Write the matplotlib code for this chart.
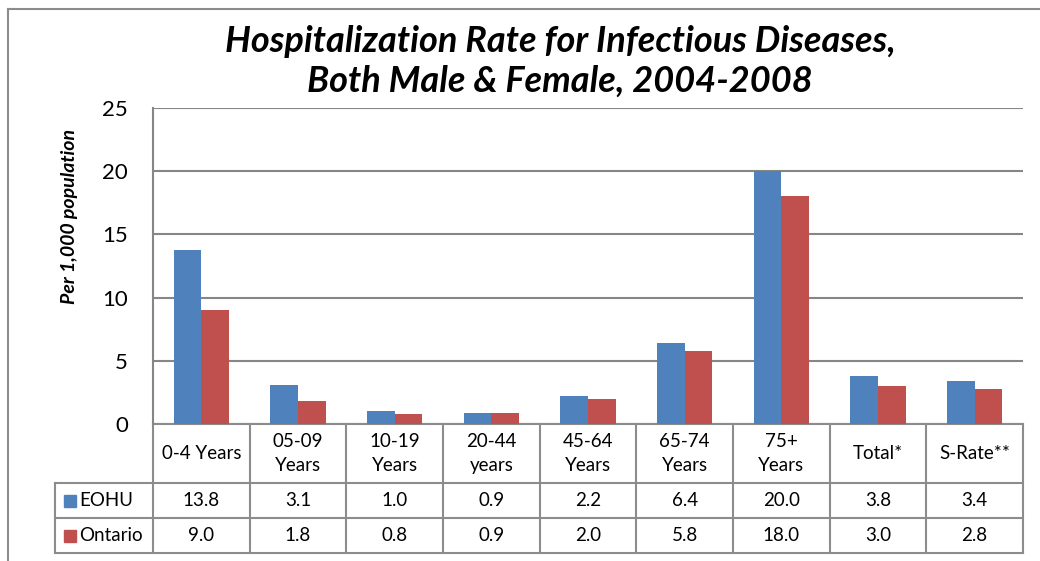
#!/usr/bin/env python3
"""Hospitalization rate for infectious diseases, EOHU vs Ontario, with data table."""

import matplotlib.pyplot as plt
from matplotlib.lines import Line2D
from matplotlib.patches import Rectangle
from matplotlib.transforms import blended_transform_factory

plt.rcParams["font.family"] = ["Lato", "DejaVu Sans"]

CATEGORIES = ["0-4 Years", "05-09\nYears", "10-19\nYears", "20-44\nyears", "45-64\nYears",
              "65-74\nYears", "75+\nYears", "Total*", "S-Rate**"]
EOHU = [13.8, 3.1, 1.0, 0.9, 2.2, 6.4, 20.0, 3.8, 3.4]
ONTARIO = [9.0, 1.8, 0.8, 0.9, 2.0, 5.8, 18.0, 3.0, 2.8]
SERIES = ["EOHU", "Ontario"]
Y_TICKS = [0, 5, 10, 15, 20, 25]

BLUE = "#4F81BD"
RED = "#C0504D"
GRID = "#868686"
LINE = "#8C8C8C"

W, H = 1040, 561


def fx(px):
    return px / W


def fy(py):
    return 1 - py / H


fig = plt.figure(figsize=(W / 100, H / 100), dpi=100)

# outer chart frame (top and left edges visible)
fig.add_artist(Line2D([fx(8), fx(8)], [fy(9), 0], color=LINE, lw=1.5))
fig.add_artist(Line2D([fx(8), 1], [fy(9), fy(9)], color=LINE, lw=1.5))

left, right, top, bottom = 153, 1023, 108, 424
ax = fig.add_axes([fx(left), fy(bottom), fx(right - left), (bottom - top) / H])

n = len(CATEGORIES)
x = list(range(n))
bw = 0.285
ax.bar([i - bw / 2 for i in x], EOHU, width=bw, color=BLUE, zorder=3)
ax.bar([i + bw / 2 for i in x], ONTARIO, width=bw, color=RED, zorder=3)

ax.set_xlim(-0.5, n - 0.5)
ax.set_ylim(0, 25)
ax.set_yticks(Y_TICKS)
ax.set_yticklabels([str(t) for t in Y_TICKS], fontsize=16)
ax.set_xticks([])
ax.tick_params(axis="y", length=0, pad=18)
ax.yaxis.grid(True, color=GRID, lw=1.5, zorder=0)
for s in ["top", "right", "bottom"]:
    ax.spines[s].set_visible(False)
ax.spines["left"].set_color(GRID)
ax.spines["left"].set_linewidth(1.5)

fig.text(fx(70), fy(217), "Per 1,000 population", rotation=90, ha="center", va="center",
         fontsize=14, fontweight="bold", fontstyle="italic")

fig.text(fx(560), fy(42), "Hospitalization Rate for Infectious Diseases,", ha="center", va="center",
         fontsize=26, fontweight="bold", fontstyle="italic")
fig.text(fx(560), fy(81), "Both Male & Female, 2004-2008", ha="center", va="center",
         fontsize=26, fontweight="bold", fontstyle="italic")

# data table under the axis
tr = blended_transform_factory(ax.transData, ax.transAxes)
ph = bottom - top


def ay(py):
    return (bottom - py) / ph


row_y = [424, 483, 518, 553]
label_left = 55
lx = (label_left - left) / (right - left) * n - 0.5

for i in range(n + 1):
    ax.add_line(Line2D([i - 0.5, i - 0.5], [ay(424), ay(553)], color=LINE, lw=1.5,
                       transform=tr, clip_on=False))
ax.add_line(Line2D([lx, lx], [ay(483), ay(553)], color=LINE, lw=1.5, transform=tr, clip_on=False))
ax.add_line(Line2D([-0.5, n - 0.5], [ay(424), ay(424)], color=LINE, lw=1.5, transform=tr, clip_on=False))
for py in row_y[1:]:
    ax.add_line(Line2D([lx, n - 0.5], [ay(py), ay(py)], color=LINE, lw=1.5, transform=tr, clip_on=False))

for i, cat in enumerate(CATEGORIES):
    ax.text(i, ay((row_y[0] + row_y[1]) / 2), cat, ha="center", va="center", fontsize=13.5,
            linespacing=1.45, transform=tr)
    ax.text(i, ay((row_y[1] + row_y[2]) / 2), f"{EOHU[i]:.1f}", ha="center", va="center",
            fontsize=13.5, transform=tr)
    ax.text(i, ay((row_y[2] + row_y[3]) / 2), f"{ONTARIO[i]:.1f}", ha="center", va="center",
            fontsize=13.5, transform=tr)

key_w = 12 / (right - left) * n
for r, (name, col) in enumerate(zip(SERIES, [BLUE, RED])):
    yc = (row_y[r + 1] + row_y[r + 2]) / 2
    kx = (64 - left) / (right - left) * n - 0.5
    ax.add_patch(Rectangle((kx, ay(yc + 6)), key_w, ay(yc - 6) - ay(yc + 6), color=col,
                           transform=tr, clip_on=False))
    ax.text(kx + key_w + 3 / (right - left) * n, ay(yc), name, ha="left", va="center",
            fontsize=13.5, transform=tr)

fig.savefig("out.png", dpi=100)
